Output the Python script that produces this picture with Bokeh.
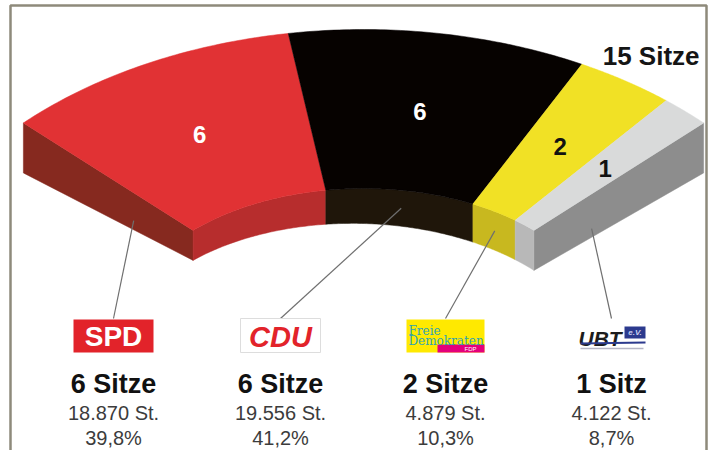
import numpy as np
from bokeh.plotting import figure
from bokeh.models import Range1d, ColumnDataSource
from bokeh.core.properties import value
from bokeh.embed import file_html
from bokeh.resources import INLINE

# ---------------- data ----------------
parties = ["SPD", "CDU", "FDP", "UBT"]
seats = [6, 6, 2, 1]
votes = [18870, 19556, 4879, 4122]
seat_words = ["Sitze", "Sitze", "Sitze", "Sitz"]

# ---------------- style ----------------
top_colors = ["#E13234", "#060200", "#F1E125", "#D9DADA"]
inner_colors = ["#B72D2D", "#1F160A", "#C8B81F", "#B8B8B8"]
left_cap_color = "#86291F"
right_cap_color = "#8D8D8D"
num_colors = ["white", "white", "#111111", "#111111"]
col_x = [113, 280, 445, 611]
FONT = value("Liberation Sans")

# projection of the arc (reference-pixel space)
TH0, TH1 = 135.0, 45.0
CX = 363.0
IN_A, IN_B, IN_CY = 241.0, 143.0, 331.0
OUT_A, OUT_B, OUT_CY = 481.0, 319.0, 348.0
H_IN0, H_IN1, H_OUT = 30.0, 40.0, 50.0


def pt(theta, t, depth=0.0):
    th = np.radians(theta)
    a = IN_A + (OUT_A - IN_A) * t
    b = IN_B + (OUT_B - IN_B) * t
    cy = IN_CY + (OUT_CY - IN_CY) * t
    h_in = H_IN0 + (H_IN1 - H_IN0) * (TH0 - theta) / (TH0 - TH1)
    h = h_in + (H_OUT - h_in) * t
    return CX + a * np.cos(th), cy - b * np.sin(th) + depth * h


total = sum(seats)
cum = np.concatenate([[0], np.cumsum(seats)])
starts = TH0 - (TH0 - TH1) * cum[:-1] / total
ends = TH0 - (TH0 - TH1) * cum[1:] / total

p = figure(width=716, height=450, x_range=Range1d(0, 716), y_range=Range1d(450, 0),
           output_backend="svg", toolbar_location=None, min_border=0,
           x_axis_type=None, y_axis_type=None)
p.grid.visible = False
p.outline_line_color = None
p.background_fill_color = "white"
p.border_fill_color = "white"

# frame
p.multi_line(xs=[[10, 10, 706, 706]], ys=[[452, 5, 5, 452]], line_color="#8E8A7B", line_width=2.5)

# end caps
cap_xs, cap_ys, cap_cols = [], [], []
for th, col in [(TH0, left_cap_color), (TH1, right_cap_color)]:
    pts = [pt(th, 1, 0), pt(th, 0, 0), pt(th, 0, 1), pt(th, 1, 1)]
    cap_xs.append([q[0] for q in pts]); cap_ys.append([q[1] for q in pts]); cap_cols.append(col)
p.patches(cap_xs, cap_ys, fill_color=cap_cols, line_color=cap_cols, line_width=0.5)

# inner side faces and top faces
in_xs, in_ys, top_xs, top_ys = [], [], [], []
for s, e in zip(starts, ends):
    ang = np.linspace(s, e, 60)
    x0, y0 = pt(ang, 0, 0)
    x1, y1 = pt(ang, 0, 1)
    in_xs.append(list(x0) + list(x1[::-1])); in_ys.append(list(y0) + list(y1[::-1]))
    xo, yo = pt(ang, 1, 0)
    top_xs.append(list(xo) + list(x0[::-1])); top_ys.append(list(yo) + list(y0[::-1]))
p.patches(in_xs, in_ys, fill_color=inner_colors, line_color=inner_colors, line_width=0.5)
p.patches(top_xs, top_ys, fill_color=top_colors, line_color=top_colors, line_width=0.5)

# seat numbers on the arc
mid = (starts + ends) / 2
lx, ly = pt(mid, 0.5, 0)
p.text(x=list(lx), y=list(ly), text=[str(s) for s in seats], text_color=num_colors,
       text_align="center", text_baseline="middle", text_font=FONT,
       text_font_style="bold", text_font_size="24px")

# leader lines
anchors = []
for i, (s, e) in enumerate(zip(starts, ends)):
    if i == 0:
        anchors.append(pt(TH0, 0.35, 0.75))
    elif i == len(seats) - 1:
        anchors.append(pt(TH1, 0.34, 0.8))
    else:
        anchors.append(pt((s + e) / 2, 0, 0.5))
p.segment(x0=[a[0] for a in anchors], y0=[a[1] for a in anchors],
          x1=col_x, y1=[318] * len(col_x), line_color="#6F6F6F", line_width=1.2)

# total
p.text(x=[699], y=[55], text=[f"{total} Sitze"], text_align="right", text_baseline="alphabetic",
       text_font=FONT, text_font_style="bold", text_font_size="26px", text_color="#151515")

# logos
LT, LB, LW = 319, 352, 40
# SPD
p.quad(left=[col_x[0] - LW], right=[col_x[0] + LW], top=[LT], bottom=[LB],
       fill_color="#E2232A", line_color=None)
p.text(x=[col_x[0]], y=[LB - 16], text=["SPD"], text_align="center", text_baseline="middle",
       text_font=FONT, text_font_style="bold", text_font_size="28px", text_color="white")
# CDU
p.quad(left=[col_x[1] - LW], right=[col_x[1] + LW], top=[LT - 1], bottom=[LB],
       fill_color="white", line_color="#DDDDDD")
p.text(x=[col_x[1]], y=[LB - 16], text=["CDU"], text_align="center", text_baseline="middle",
       text_font=FONT, text_font_style="bold italic", text_font_size="29px", text_color="#E2232A")
# FDP
p.quad(left=[col_x[2] - 39], right=[col_x[2] + 39], top=[LT], bottom=[LB],
       fill_color="#FFE900", line_color=None)
p.quad(left=[col_x[2] - 8], right=[col_x[2] + 39], top=[LB - 8], bottom=[LB],
       fill_color="#E4007C", line_color=None)
p.text(x=[col_x[2] - 37, col_x[2] - 37], y=[330, 340], text=["Freie", "Demokraten"],
       text_align="left", text_baseline="alphabetic", text_font=value("DejaVu Serif"),
       text_font_size="12px", text_color="#2FA3B3")
p.text(x=[col_x[2] + 25], y=[LB - 4], text=["FDP"], text_align="center", text_baseline="middle",
       text_font=FONT, text_font_size="6px", text_color="white")
# UBT
p.text(x=[col_x[3] - 33], y=[338], text=["UBT"], text_align="left", text_baseline="alphabetic",
       text_font=FONT, text_font_style="bold italic", text_font_size="21px", text_color="#1C1C1C")
p.quad(left=[col_x[3] + 13], right=[col_x[3] + 34], top=[326], bottom=[338],
       fill_color="#2C3A8E", line_color=None)
p.text(x=[col_x[3] + 23.5], y=[332], text=["e.V."], text_align="center", text_baseline="middle",
       text_font=FONT, text_font_style="bold italic", text_font_size="8px", text_color="#C9D0F0")
p.segment(x0=[col_x[3] - 31], y0=[343], x1=[col_x[3] + 34], y1=[342], line_color="#2C3A8E", line_width=2)
p.segment(x0=[col_x[3] - 31], y0=[348], x1=[col_x[3] + 32], y1=[348], line_color="#B5B5C5", line_width=1.5)

# bottom texts
seat_txt = [f"{s} {w}" for s, w in zip(seats, seat_words)]
vote_total = sum(votes)
vote_txt = [f"{v:,} St.".replace(",", ".") for v in votes]
pct_txt = [f"{100 * v / vote_total:.1f}%".replace(".", ",") for v in votes]
src = ColumnDataSource(dict(x=col_x, seat=seat_txt, vote=vote_txt, pct=pct_txt,
                            y1=[383] * 4, y2=[412] * 4, y3=[437] * 4))
p.text(x="x", y="y1", text="seat", source=src, text_align="center", text_baseline="alphabetic",
       text_font=FONT, text_font_style="bold", text_font_size="27px", text_color="#111111")
p.text(x="x", y="y2", text="vote", source=src, text_align="center", text_baseline="alphabetic",
       text_font=FONT, text_font_size="20px", text_color="#3C3C3C")
p.text(x="x", y="y3", text="pct", source=src, text_align="center", text_baseline="alphabetic",
       text_font=FONT, text_font_size="20px", text_color="#3C3C3C")

open("out.html", "w").write(file_html(p, INLINE))
